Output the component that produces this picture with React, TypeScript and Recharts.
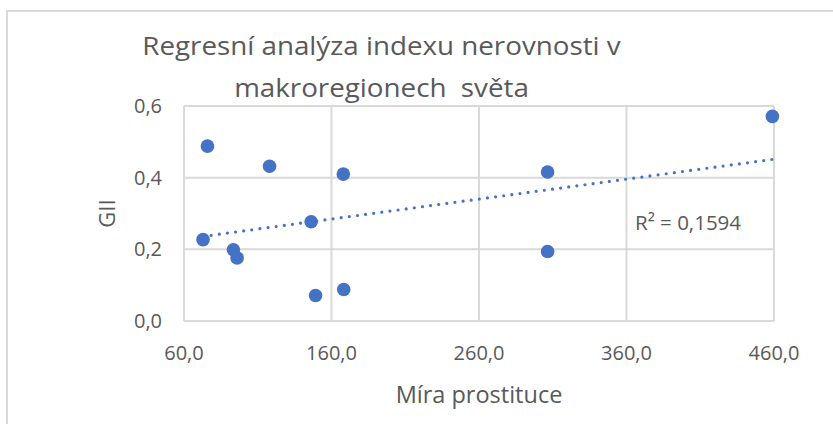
import {
  ScatterChart,
  Scatter,
  XAxis,
  YAxis,
  CartesianGrid,
  ReferenceLine,
  Label,
} from 'recharts';

// Míra prostituce (x) vs GII (y)
const prostitution = [75.9, 118.0, 168.0, 146.2, 72.9, 93.5, 96.0, 149.2, 168.3, 306.5, 306.5, 458.9];
const gii = [0.488, 0.432, 0.41, 0.277, 0.227, 0.199, 0.176, 0.071, 0.088, 0.416, 0.194, 0.571];

const xTicks = [60, 160, 260, 360, 460];
const yTicks = [0, 0.2, 0.4, 0.6];

const titleLines = ['Regresní analýza indexu nerovnosti v', 'makroregionech  světa'];
const rSquaredText = 'R² = 0,1594';

const FONT = '"Open Sans", sans-serif';
const TEXT = '#595959';
const GRID = '#d9d9d9';
const BLUE = '#4472c4';

const points = prostitution.map((x, i) => ({ x, y: gii[i] }));

// least squares trendline (linear), like Excel's
function trend() {
  const n = points.length;
  const mx = points.reduce((s, p) => s + p.x, 0) / n;
  const my = points.reduce((s, p) => s + p.y, 0) / n;
  let sxy = 0;
  let sxx = 0;
  points.forEach((p) => {
    sxy += (p.x - mx) * (p.y - my);
    sxx += (p.x - mx) * (p.x - mx);
  });
  const slope = sxy / sxx;
  const icpt = my - slope * mx;
  const x0 = Math.min(...prostitution);
  const x1 = Math.max(...prostitution);
  return [
    { x: x0, y: icpt + slope * x0 },
    { x: x1, y: icpt + slope * x1 },
  ];
}

const fmt = (v: number) => v.toFixed(1).replace('.', ',');

const Dot = (props: any) => <circle cx={props.cx} cy={props.cy} r={6.8} fill={BLUE} />;

export default function App() {
  return (
    <div
      style={{
        position: 'absolute',
        left: 0,
        top: 0,
        width: 833,
        height: 424,
        overflow: 'hidden',
        background: '#fff',
        fontFamily: FONT,
      }}
    >
      <div
        style={{
          position: 'absolute',
          left: 6,
          top: 10,
          width: 860,
          height: 460,
          border: `2px solid ${GRID}`,
          boxSizing: 'border-box',
        }}
      />
      <div
        style={{
          position: 'absolute',
          left: 0,
          top: 24,
          width: 763,
          textAlign: 'center',
          color: TEXT,
          fontSize: 25,
          lineHeight: '42px',
          whiteSpace: 'pre',
          transform: 'scaleX(1.11)',
          transformOrigin: '381.5px 0',
        }}
      >
        {titleLines.map((t) => (
          <div key={t}>{t}</div>
        ))}
      </div>
      <ScatterChart
        width={833}
        height={424}
        margin={{ top: 106, right: 59, bottom: 0, left: 0 }}
        style={{ position: 'absolute', left: 0, top: 0 }}
      >
        <CartesianGrid stroke={GRID} strokeWidth={2} />
        <XAxis
          type="number"
          dataKey="x"
          domain={[60, 460]}
          ticks={xTicks}
          tickFormatter={fmt}
          height={103}
          axisLine={{ stroke: GRID, strokeWidth: 2 }}
          tickLine={false}
          tickSize={0}
          tickMargin={25}
          tick={{ fill: TEXT, fontSize: 20, fontFamily: FONT }}
        >
          <Label
            value="Míra prostituce"
            position="center"
            dy={22}
            fill={TEXT}
            fontSize={23.5}
            fontFamily={FONT}
          />
        </XAxis>
        <YAxis
          type="number"
          dataKey="y"
          domain={[0, 0.6]}
          ticks={yTicks}
          tickFormatter={fmt}
          width={184}
          axisLine={{ stroke: GRID, strokeWidth: 2 }}
          tickLine={false}
          tickSize={0}
          tickMargin={22}
          tick={{ fill: TEXT, fontSize: 20, fontFamily: FONT }}
        >
          <Label
            value="GII"
            angle={-90}
            position="center"
            dx={15}
            fill={TEXT}
            fontSize={22}
            fontFamily={FONT}
          />
        </YAxis>
        <ReferenceLine
          segment={trend()}
          stroke={BLUE}
          strokeWidth={3.2}
          strokeDasharray="0 8.2"
          strokeLinecap="round"
        />
        <Scatter data={points} shape={Dot} isAnimationActive={false} />
      </ScatterChart>
      <div
        style={{
          position: 'absolute',
          left: 635,
          top: 207,
          color: TEXT,
          fontSize: 20.5,
          lineHeight: '30px',
          whiteSpace: 'pre',
        }}
      >
        {rSquaredText}
      </div>
    </div>
  );
}
